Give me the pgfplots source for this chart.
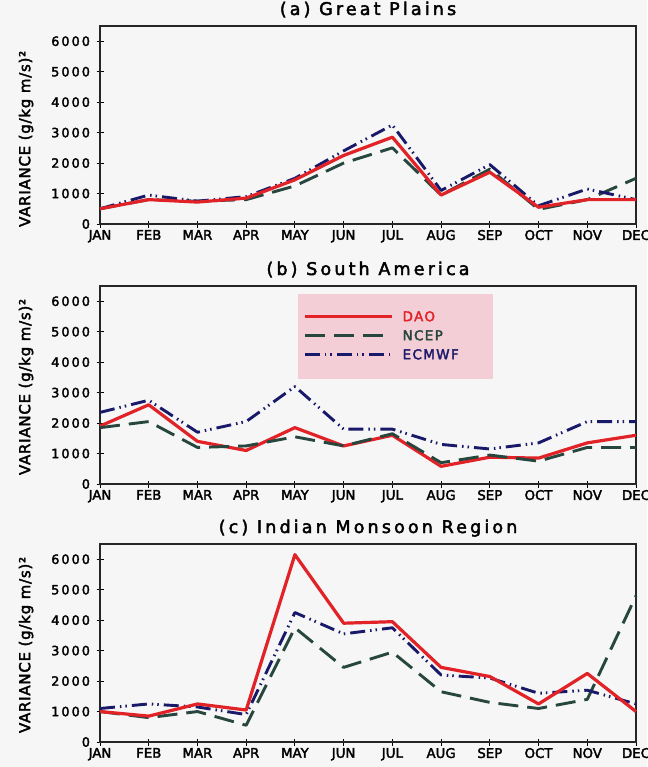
\documentclass[border=0pt]{standalone}
\usepackage{fontspec}
\setmainfont{DejaVu Sans}[FakeBold=2.5]
\newfontfamily\tickfont[LetterSpace=16,FakeBold=2.5]{DejaVu Sans}
\newfontfamily\titlefont[LetterSpace=18,FakeBold=2.5]{DejaVu Sans}
\newfontfamily\labfont[LetterSpace=5,FakeBold=2.5]{DejaVu Sans}
\newfontfamily\legfont[LetterSpace=10,FakeBold=2.5]{DejaVu Sans}
\usepackage{pgfplots}
\pgfplotsset{compat=1.18}
\definecolor{daored}{RGB}{225,35,40}
\definecolor{ncepgreen}{RGB}{38,70,62}
\definecolor{ecnavy}{RGB}{25,25,105}
\definecolor{pinkbg}{RGB}{243,206,214}
\definecolor{bg}{RGB}{246,246,246}

\pgfplotstableread{
m dao ncep ec
0 500 500 500
1 800 800 950
2 720 750 750
3 850 800 900
4 1450 1250 1500
5 2250 2000 2400
6 2850 2500 3250
7 950 950 1100
8 1700 1800 1950
9 550 480 600
10 800 800 1150
11 800 1500 800
}\tabA
\pgfplotstableread{
m dao ncep ec
0 1900 1850 2350
1 2600 2050 2750
2 1400 1200 1700
3 1100 1250 2050
4 1850 1550 3200
5 1250 1250 1800
6 1600 1650 1800
7 580 700 1300
8 880 950 1150
9 850 750 1350
10 1350 1200 2050
11 1600 1200 2050
}\tabB
\pgfplotstableread{
m dao ncep ec
0 1000 1000 1100
1 850 800 1250
2 1250 1000 1150
3 1050 550 900
4 6150 3750 4250
5 3900 2450 3550
6 3950 2950 3750
7 2450 1650 2200
8 2150 1300 2100
9 1250 1100 1600
10 2250 1400 1700
11 1000 4800 1250
}\tabC

\pgfplotsset{
  panel/.style={
    scale only axis, width=536pt, height=198pt,
    anchor=south west,
    xmin=0, xmax=11, ymin=0, ymax=6500,
    xtick={0,...,11},
    xticklabels={JAN,FEB,MAR,APR,MAY,JUN,JUL,AUG,SEP,OCT,NOV,DEC},
    ytick={0,1000,...,6000},
    tick pos=left,
    tick align=center, major tick length=7pt,
    tick style={line width=1pt, black},
    axis line style={line width=1.4pt, black!85},
    scaled y ticks=false,
    /pgf/number format/set thousands separator={},
    /pgf/number format/assume math mode=true,
    yticklabel style={font=\fontsize{12.8}{12.8}\tickfont, xshift=-3pt},
    xticklabel style={font=\fontsize{13.3}{13.3}\selectfont, yshift=1pt},
    ylabel={VARIANCE (g/kg m/s)²},
    title style={font=\fontsize{17.5}{17.5}\titlefont, at={(axis description cs:0.5,1)}, anchor=base, yshift=5pt},
    clip=false,
    every axis plot/.append style={line width=2.9pt, line join=round},
  },
  ylab/.style={every axis y label/.style={at={(axis description cs:-0.138,#1)}, rotate=90, anchor=center, font=\fontsize{15}{15}\labfont}},
  dao/.style={daored, solid, line width=3.2pt},
  ncep/.style={ncepgreen, dash pattern=on 20pt off 9pt},
  ec/.style={ecnavy, dash pattern=on 15pt off 5pt on 1.5pt off 4pt on 1.5pt off 5pt},
}

\begin{document}
\begin{tikzpicture}
\fill[bg] (0pt,0pt) rectangle (647pt,-767pt);

\begin{axis}[panel, ylab=0.43, at={(100pt,-224pt)}, title={(a) Great Plains}]
\addplot[ncep] table[x=m,y=ncep] {\tabA};
\addplot[ec] table[x=m,y=ec] {\tabA};
\addplot[dao] table[x=m,y=dao] {\tabA};
\end{axis}

\begin{axis}[panel, ylab=0.49, at={(100pt,-484pt)}, title={(b) South America},
  legend style={at={(axis cs:4.17,5760)}, anchor=north west, draw=none, fill=none,
    inner sep=0pt, row sep=3.5pt, column sep=6pt,
    nodes={font=\fontsize{13.5}{13.5}\legfont, text height=9.5pt, text depth=0pt, inner sep=3pt}},
  legend cell align=left,
  legend image code/.code={\draw[#1] (0pt,0pt) -- (87pt,0pt);},
  ]
\fill[pinkbg] (axis cs:4.06,6240) rectangle (axis cs:8.06,3450);
\addplot[dao] table[x=m,y=dao] {\tabB};
\addlegendentry{\textcolor{daored}{DAO}}
\addplot[ncep] table[x=m,y=ncep] {\tabB};
\addlegendentry{\textcolor{ncepgreen}{NCEP}}
\addplot[ec] table[x=m,y=ec] {\tabB};
\addlegendentry{\textcolor{ecnavy}{ECMWF}}
\end{axis}

\begin{axis}[panel, ylab=0.49, at={(100pt,-742pt)}, title={(c) Indian Monsoon Region}]
\addplot[ncep] table[x=m,y=ncep] {\tabC};
\addplot[ec] table[x=m,y=ec] {\tabC};
\addplot[dao] table[x=m,y=dao] {\tabC};
\end{axis}

\pgfresetboundingbox
\path[use as bounding box] (0pt,0pt) rectangle (647pt,-767pt);
\end{tikzpicture}
\end{document}
